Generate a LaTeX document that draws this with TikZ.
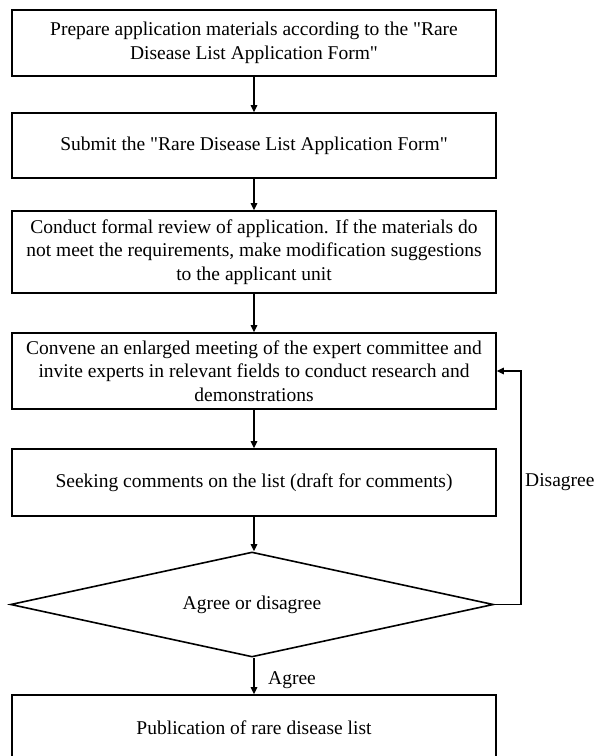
\documentclass[tikz,border=0pt]{standalone}
\usepackage{fontspec}
\setmainfont{Liberation Serif}[Ligatures=TeXOff]
\usetikzlibrary{arrows.meta,shapes.geometric}
\tikzset{
  box/.style={draw, line width=1.6pt, minimum width=484pt, align=center, inner sep=0pt,
    font=\fontsize{19.5pt}{23.6pt}\selectfont},
  decide/.style={draw, diamond, aspect=4.6, line width=1.6pt, minimum width=483pt, minimum height=105pt, inner sep=0pt,
    font=\fontsize{19.5pt}{23.6pt}\selectfont},
  arr/.style={line width=1.3pt, -{Triangle[length=7pt,width=6.5pt]}},
  lbl/.style={font=\fontsize{19.5pt}{23.6pt}\selectfont, inner sep=0pt, anchor=west}
}
\begin{document}
\begin{tikzpicture}[x=1pt,y=-1pt]
\clip (0,0) rectangle (606,756);
\node[box, minimum height=66pt] (b1) at (254,43) {Prepare application materials according to the "Rare\\Disease List Application Form"};
\node[box, minimum height=65pt] (b2) at (254,145.5) {Submit the "Rare Disease List Application Form"};
\node[box, minimum height=82pt] (b3) at (254,252) {Conduct formal review of application. If the materials do\\not meet the requirements, make modification suggestions\\to the applicant unit};
\node[box, minimum height=76pt] (b4) at (254,371) {Convene an enlarged meeting of the expert committee and\\invite experts in relevant fields to conduct research and\\demonstrations};
\node[box, minimum height=67pt] (b5) at (254,482.5) {Seeking comments on the list (draft for comments)};
\node[decide] (d) at (252,604.5) {Agree or disagree};
\node[box, minimum height=66pt] (b6) at (254,728) {Publication of rare disease list};
\coordinate (cr) at (521,604.5);
\draw[arr] (b1.south) -- (b2.north);
\draw[arr] (b2.south) -- (b3.north);
\draw[arr] (b3.south) -- (b4.north);
\draw[arr] (b4.south) -- (b5.north);
\draw[arr] (b5.south) -- (b5.south |- d.north);
\draw[arr] (b6.north |- d.south) -- (b6.north);
\draw[arr] (d.east) -- (cr) |- (b4.east);
\node[lbl] (dis) at (525,482.5) {Disagree};
\node[lbl] (agr) at (268,680) {Agree};
\end{tikzpicture}
\end{document}
